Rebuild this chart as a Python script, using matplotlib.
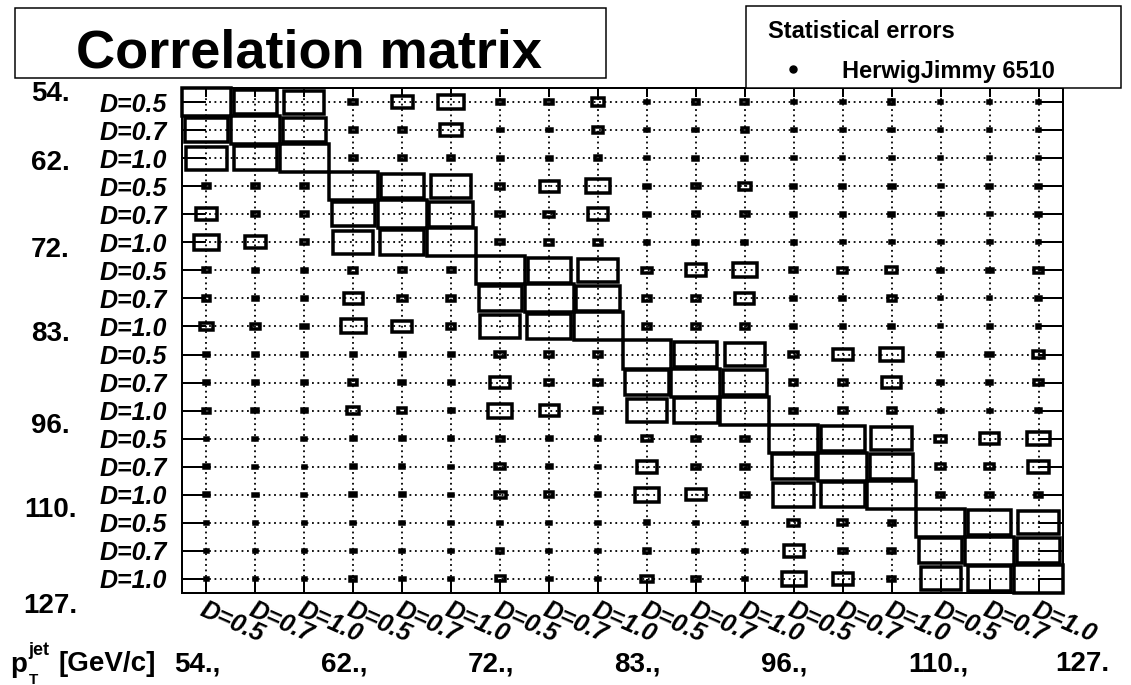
import matplotlib
matplotlib.use("Agg")
import matplotlib.pyplot as plt
from matplotlib.patches import Rectangle
from matplotlib.lines import Line2D
from matplotlib import transforms

plt.rcParams['font.family'] = ['Liberation Sans', 'DejaVu Sans']

# ---- data -------------------------------------------------------------
cone_labels = ["D=0.5", "D=0.7", "D=1.0"] * 6
pt_edges = ["54.", "62.", "72.", "83.", "96.", "110.", "127."]
legend_title = "Statistical errors"
legend_entry = "HerwigJimmy 6510"

# correlation coefficients, row 0 = (54 GeV, D=0.5)
corr = [
    [1.00, 0.88, 0.82, 0.16, 0.42, 0.52, 0.14, 0.16, 0.26, 0.10, 0.12, 0.14, 0.08, 0.09, 0.11, 0.05, 0.06, 0.07],
    [0.88, 1.00, 0.88, 0.14, 0.14, 0.44, 0.10, 0.10, 0.19, 0.09, 0.10, 0.12, 0.08, 0.08, 0.09, 0.05, 0.06, 0.07],
    [0.82, 0.88, 1.00, 0.14, 0.14, 0.13, 0.10, 0.10, 0.14, 0.09, 0.10, 0.10, 0.08, 0.07, 0.08, 0.05, 0.06, 0.07],
    [0.16, 0.14, 0.14, 1.00, 0.87, 0.81, 0.17, 0.39, 0.50, 0.11, 0.16, 0.25, 0.10, 0.10, 0.12, 0.08, 0.10, 0.12],
    [0.42, 0.14, 0.14, 0.87, 1.00, 0.90, 0.15, 0.19, 0.41, 0.11, 0.13, 0.16, 0.10, 0.09, 0.11, 0.08, 0.08, 0.10],
    [0.52, 0.44, 0.13, 0.81, 0.90, 1.00, 0.15, 0.16, 0.16, 0.10, 0.10, 0.10, 0.09, 0.08, 0.08, 0.08, 0.08, 0.07],
    [0.14, 0.10, 0.10, 0.17, 0.15, 0.15, 1.00, 0.88, 0.82, 0.20, 0.42, 0.49, 0.14, 0.19, 0.22, 0.09, 0.12, 0.18],
    [0.16, 0.10, 0.10, 0.39, 0.19, 0.16, 0.88, 1.00, 0.89, 0.17, 0.17, 0.39, 0.10, 0.10, 0.17, 0.07, 0.07, 0.10],
    [0.26, 0.19, 0.14, 0.50, 0.41, 0.16, 0.82, 0.89, 1.00, 0.17, 0.15, 0.16, 0.10, 0.08, 0.10, 0.07, 0.08, 0.08],
    [0.10, 0.09, 0.09, 0.11, 0.11, 0.10, 0.20, 0.17, 0.17, 1.00, 0.88, 0.83, 0.19, 0.41, 0.48, 0.10, 0.14, 0.23],
    [0.12, 0.10, 0.10, 0.16, 0.13, 0.10, 0.42, 0.17, 0.15, 0.88, 1.00, 0.89, 0.15, 0.16, 0.40, 0.09, 0.10, 0.17],
    [0.14, 0.12, 0.10, 0.25, 0.16, 0.10, 0.49, 0.39, 0.16, 0.83, 0.89, 1.00, 0.15, 0.16, 0.16, 0.08, 0.08, 0.09],
    [0.08, 0.08, 0.08, 0.10, 0.10, 0.09, 0.14, 0.10, 0.10, 0.19, 0.15, 0.15, 1.00, 0.89, 0.84, 0.22, 0.40, 0.48],
    [0.09, 0.08, 0.07, 0.10, 0.09, 0.08, 0.19, 0.10, 0.08, 0.41, 0.16, 0.16, 0.89, 1.00, 0.89, 0.18, 0.17, 0.41],
    [0.11, 0.09, 0.08, 0.12, 0.11, 0.08, 0.22, 0.17, 0.10, 0.48, 0.40, 0.16, 0.84, 0.89, 1.00, 0.13, 0.14, 0.15],
    [0.05, 0.05, 0.05, 0.08, 0.08, 0.08, 0.09, 0.07, 0.07, 0.10, 0.09, 0.08, 0.22, 0.18, 0.13, 1.00, 0.89, 0.82],
    [0.06, 0.06, 0.06, 0.10, 0.08, 0.08, 0.12, 0.07, 0.08, 0.14, 0.10, 0.08, 0.40, 0.17, 0.14, 0.89, 1.00, 0.89],
    [0.07, 0.07, 0.07, 0.12, 0.10, 0.07, 0.18, 0.10, 0.08, 0.23, 0.17, 0.09, 0.48, 0.41, 0.15, 0.82, 0.89, 1.00],
]

# ---- layout (pixels) ---------------------------------------------------
W, H = 1131, 685
PX = 72.0 / 100.0          # points per pixel at dpi 100
pt_label_baseline_px = [101, 170, 257, 341, 433, 517, 613]


def fx(px):
    return px / W


def fy(py):
    return 1.0 - py / H


fig = plt.figure(figsize=(W / 100, H / 100), dpi=100)
fig.patch.set_facecolor("white")

ax = fig.add_axes([fx(182), fy(593), fx(1063) - fx(182), fy(88) - fy(593)])
n = len(cone_labels)
ax.set_xlim(-0.5, n - 0.5)
ax.set_ylim(n - 0.5, -0.5)
ax.set_axisbelow(True)

ax.set_xticks(range(n))
ax.set_yticks(range(n))
ax.grid(True, color="black", lw=1.3, ls=(0, (1, 2)))

for sp in ax.spines.values():
    sp.set_linewidth(2 * PX)

ax.tick_params(axis="both", direction="in", width=2 * PX, color="black")
ax.tick_params(axis="x", length=14 * PX, top=True, bottom=True, pad=3)
ax.tick_params(axis="y", length=24 * PX, left=True, right=True, pad=15 * PX)
for t in ax.xaxis.get_major_ticks():
    t.tick2line.set_markersize(9 * PX)

lab_font = dict(fontsize=18, fontweight="bold", fontstyle="italic")
ax.set_yticklabels(cone_labels, **lab_font)
ax.set_xticklabels(cone_labels, rotation=-24, ha="left", va="top",
                   rotation_mode="anchor", **lab_font)

# boxes: side proportional to the coefficient
for i, row in enumerate(corr):
    for j, v in enumerate(row):
        s = abs(v)
        ax.add_patch(Rectangle((j - s / 2, i - s / 2), s, s, fill=False,
                               ec="black", lw=3.5 * PX, joinstyle="miter",
                               zorder=3, clip_on=False))

# ---- title box ---------------------------------------------------------
fig.patches.append(Rectangle((fx(15), fy(78)), fx(606) - fx(15), fy(8) - fy(78),
                             transform=fig.transFigure, fill=True, fc="white",
                             ec="black", lw=1.5 * PX, zorder=5))
fig.text(fx(309), fy(68), "Correlation matrix", ha="center", va="baseline",
         fontsize=39, fontweight="bold", zorder=6)

# ---- legend box --------------------------------------------------------
fig.patches.append(Rectangle((fx(746), fy(88)), fx(1121) - fx(746), fy(6) - fy(88),
                             transform=fig.transFigure, fill=True, fc="white",
                             ec="black", lw=1.5 * PX, zorder=5))
fig.text(fx(768), fy(38), legend_title, ha="left", va="baseline",
         fontsize=17, fontweight="bold", zorder=6)
fig.add_artist(Line2D([fx(793)], [fy(69)], marker="o", ms=7 * PX,
                      color="black", transform=fig.transFigure, zorder=6))
fig.text(fx(842), fy(78), legend_entry, ha="left", va="baseline",
         fontsize=17, fontweight="bold", zorder=6)

# ---- pt bin edges on the left -----------------------------------------
for lab, yb in zip(pt_edges, pt_label_baseline_px):
    fig.text(fx(50), fy(yb), lab, ha="center", va="baseline",
             fontsize=20, fontweight="bold")

# ---- pt bin edges along the bottom ------------------------------------
bottom_tr = transforms.blended_transform_factory(ax.transData, fig.transFigure) + \
    transforms.ScaledTranslation(-8 / 100, 0, fig.dpi_scale_trans)
for k, lab in enumerate(pt_edges):
    txt = lab if k == len(pt_edges) - 1 else lab + ","
    fig.text(3 * k - 0.5, fy(671), txt, transform=bottom_tr, ha="left",
             va="baseline", fontsize=20, fontweight="bold")

fig.text(fx(10), fy(672), "p", ha="left", va="baseline", fontsize=20, fontweight="bold")
fig.text(fx(28), fy(655), "jet", ha="left", va="baseline", fontsize=13, fontweight="bold")
fig.text(fx(29), fy(684), "T", ha="left", va="baseline", fontsize=11, fontweight="bold")
fig.text(fx(58), fy(671), "[GeV/c]", ha="left", va="baseline", fontsize=20, fontweight="bold")

fig.savefig("out.png", dpi=100)
